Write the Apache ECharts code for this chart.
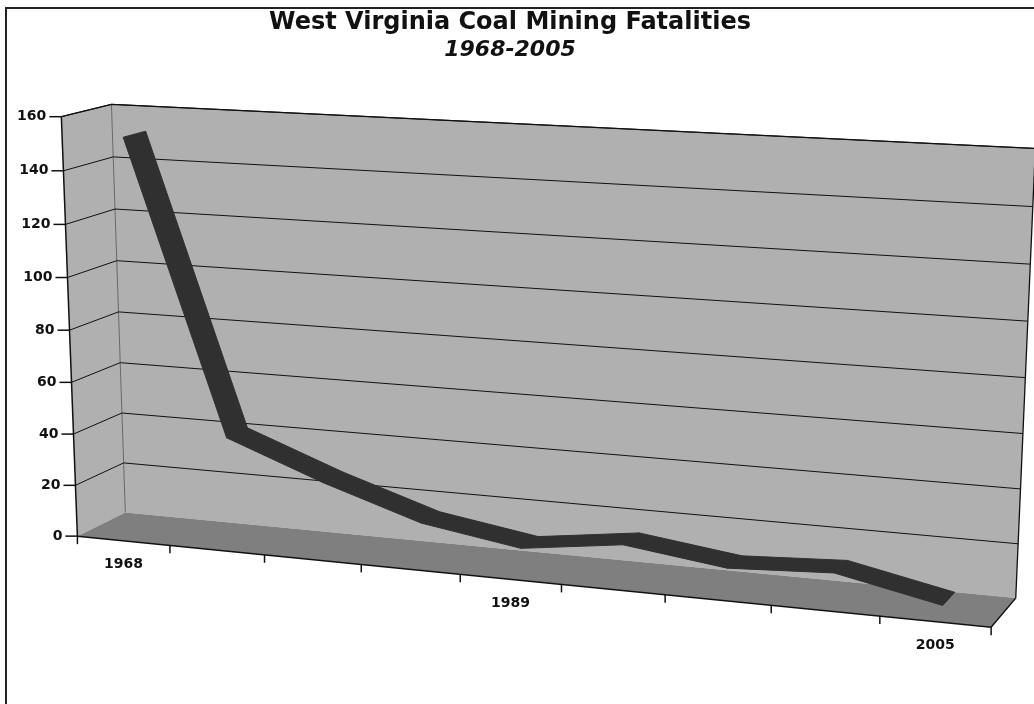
<!DOCTYPE html>
<html>
<head>
<meta charset="utf-8">
<title>West Virginia Coal Mining Fatalities</title>
<script src="https://cdn.jsdelivr.net/npm/echarts@6.0.0/dist/echarts.min.js"></script>
<style>
  html, body { margin: 0; padding: 0; background: #fff; }
  #chart { width: 1034px; height: 704px; }
</style>
</head>
<body>
<div id="chart"></div>
<script>
// values (only three years are labelled)
var years = ['1968', '', '', '', '1989', '', '', '', '2005'];
var fatalities = [152, 41, 27, 15, 9, 14, 9, 11, 3];
var yTicks = [0, 20, 40, 60, 80, 100, 120, 140, 160];

var WALL = '#b0b0b0', FLOOR = '#7f7f7f', RIBBON = '#303030', INK = '#111111';
var FONT = '"DejaVu Sans", Verdana, sans-serif';
var W1 = 0.27, W2 = 0.73;   // depth of the ribbon inside the box

// box corners seen in the picture: [u, v, w, x, y]
// u runs along the years, v = value / max, w = depth (0 front, 1 back)
var anchors = [
  [0, 1, 0, 63, 117], [0, .875, 0, 63, 170], [0, .75, 0, 65, 224], [0, .625, 0, 68, 277],
  [0, .5, 0, 70, 329], [0, .375, 0, 72, 383], [0, .25, 0, 73, 433], [0, .125, 0, 75, 485], [0, 0, 0, 77, 536],
  [0, 1, 1, 110, 104], [0, .875, 1, 112, 157], [0, .75, 1, 115, 209], [0, .625, 1, 117, 262],
  [0, .5, 1, 119, 312], [0, .375, 1, 121, 363], [0, .25, 1, 122, 413], [0, .125, 1, 124, 463], [0, 0, 1, 125, 513],
  [1, 1, 1, 1034, 149], [1, .875, 1, 1033, 207], [1, .75, 1, 1031, 265], [1, .625, 1, 1028, 321],
  [1, .5, 1, 1026, 378], [1, .375, 1, 1024, 433], [1, .25, 1, 1021, 488], [1, .125, 1, 1018, 542], [1, 0, 1, 1015, 597],
  [1 / 9, 0, 0, 171, 545], [4 / 9, 0, 0, 459, 576], [5 / 9, 0, 0, 562, 585], [6 / 9, 0, 0, 665, 595],
  [7 / 9, 0, 0, 770, 606], [8 / 9, 0, 0, 879, 617], [1, 0, 0, 992, 627]
];

// least squares fit of a perspective camera to the anchors
function fitCamera(pts) {
  var rows = [], rhs = [];
  pts.forEach(function (p) {
    var u = p[0], v = p[1], w = p[2];
    var x = (p[3] - 520) / 500, y = (p[4] - 350) / 500;
    rows.push([u, v, w, 1, 0, 0, 0, 0, -x * u, -x * v, -x * w]); rhs.push(x);
    rows.push([0, 0, 0, 0, u, v, w, 1, -y * u, -y * v, -y * w]); rhs.push(y);
  });
  var n = 11, M = [], r = [], i, j, k;
  for (i = 0; i < n; i++) {
    M[i] = [];
    for (j = 0; j < n; j++) {
      var s = 0;
      for (k = 0; k < rows.length; k++) s += rows[k][i] * rows[k][j];
      M[i][j] = s;
    }
    var t = 0;
    for (k = 0; k < rows.length; k++) t += rows[k][i] * rhs[k];
    r[i] = t;
  }
  for (i = 0; i < n; i++) {
    var piv = i;
    for (j = i + 1; j < n; j++) if (Math.abs(M[j][i]) > Math.abs(M[piv][i])) piv = j;
    var tmp = M[i]; M[i] = M[piv]; M[piv] = tmp;
    tmp = r[i]; r[i] = r[piv]; r[piv] = tmp;
    for (j = i + 1; j < n; j++) {
      var f = M[j][i] / M[i][i];
      for (k = i; k < n; k++) M[j][k] -= f * M[i][k];
      r[j] -= f * r[i];
    }
  }
  var p = [];
  for (i = n - 1; i >= 0; i--) {
    var s2 = r[i];
    for (j = i + 1; j < n; j++) s2 -= M[i][j] * p[j];
    p[i] = s2 / M[i][i];
  }
  return p;
}
var cam = fitCamera(anchors);

function proj(u, v, w) {
  var d = cam[8] * u + cam[9] * v + cam[10] * w + 1;
  return [(cam[0] * u + cam[1] * v + cam[2] * w + cam[3]) / d * 500 + 520,
          (cam[4] * u + cam[5] * v + cam[6] * w + cam[7]) / d * 500 + 350];
}

// pixel in the flat (hidden) grid -> [u, v]
function toUV(cs, pt) {
  return [(pt[0] - cs.x) / cs.width, (cs.y + cs.height - pt[1]) / cs.height];
}

function renderWalls(params, api) {
  var P = proj;
  return {
    type: 'group',
    children: [
      { type: 'polygon', shape: { points: [P(0, 0, 0), P(0, 1, 0), P(0, 1, 1), P(0, 0, 1)] }, style: { fill: WALL } },
      { type: 'polygon', shape: { points: [P(0, 0, 1), P(0, 1, 1), P(1, 1, 1), P(1, 0, 1)] }, style: { fill: WALL } },
      { type: 'polyline', shape: { points: [P(0, 0, 1), P(0, 1, 1)] }, style: { stroke: '#666', lineWidth: 1, fill: null } },
      { type: 'polyline', shape: { points: [P(0, 1, 0), P(0, 1, 1), P(1, 1, 1), P(1, 0, 1)] }, style: { stroke: INK, lineWidth: 1.3, fill: null } },
      { type: 'polyline', shape: { points: [P(0, 0, 0), P(0, 1, 0)] }, style: { stroke: INK, lineWidth: 1.5, fill: null } }
    ]
  };
}

function renderGridLine(params, api) {
  var cs = params.coordSys;
  var t = api.value(1);
  var v = toUV(cs, api.coord([0, t]))[1];
  var f = proj(0, v, 0);
  var kids = [
    { type: 'line', shape: { x1: f[0] - 12, y1: f[1], x2: f[0], y2: f[1] }, style: { stroke: INK, lineWidth: 1.5 } },
    { type: 'text', x: f[0] - 15, y: f[1], style: { text: String(t), font: 'bold 14px ' + FONT, fill: INK, align: 'right', verticalAlign: 'middle' } }
  ];
  if (t > 0) {
    kids.unshift({ type: 'polyline', shape: { points: [f, proj(0, v, 1), proj(1, v, 1)] }, style: { stroke: INK, lineWidth: 1, fill: null } });
  }
  return { type: 'group', children: kids };
}

function renderFloor(params, api) {
  var P = proj;
  return {
    type: 'group',
    children: [
      { type: 'polygon', shape: { points: [P(0, 0, 0), P(1, 0, 0), P(1, 0, 1), P(0, 0, 1)] }, style: { fill: FLOOR } },
      { type: 'polyline', shape: { points: [P(0, 0, 0), P(1, 0, 0), P(1, 0, 1)] }, style: { stroke: INK, lineWidth: 1.5, fill: null } }
    ]
  };
}

function renderCategory(params, api) {
  var cs = params.coordSys;
  var i = api.value(0);
  var n = years.length;
  var kids = [];
  var a = proj(i / n, 0, 0);
  kids.push({ type: 'line', shape: { x1: a[0], y1: a[1], x2: a[0], y2: a[1] + 8 }, style: { stroke: INK, lineWidth: 1.5 } });
  if (i === n - 1) {
    var b = proj(1, 0, 0);
    kids.push({ type: 'line', shape: { x1: b[0], y1: b[1], x2: b[0], y2: b[1] + 8 }, style: { stroke: INK, lineWidth: 1.5 } });
  }
  if (years[i]) {
    var c = proj(toUV(cs, api.coord([i, 0]))[0], 0, 0);
    kids.push({ type: 'text', x: c[0], y: c[1] + 24, style: { text: years[i], font: 'bold 14px ' + FONT, fill: INK, align: 'center', verticalAlign: 'middle' } });
  }
  return { type: 'group', children: kids };
}

function renderRibbon(params, api) {
  var cs = params.coordSys;
  var i = api.value(0);
  var a = toUV(cs, api.coord([i, api.value(1)]));
  var b = toUV(cs, api.coord([i + 1, api.value(2)]));
  var pts = [proj(a[0], a[1], W1), proj(b[0], b[1], W1), proj(b[0], b[1], W2), proj(a[0], a[1], W2)];
  return { type: 'polygon', shape: { points: pts }, style: { fill: RIBBON, stroke: RIBBON, lineWidth: 1 } };
}

var segments = fatalities.slice(1).map(function (v, i) { return [i, fatalities[i], v]; });
var gridData = yTicks.map(function (t) { return [0, t]; });
var catData = years.map(function (y, i) { return [i, 0]; });

var chart = echarts.init(document.getElementById('chart'));
chart.setOption({
  animation: false,
  title: [
    { text: 'West Virginia Coal Mining Fatalities', left: 505, top: 6, textAlign: 'center',
      textStyle: { fontFamily: FONT, fontSize: 24, fontWeight: 'bold', color: INK } },
    { text: '1968-2005', left: 505, top: 34, textAlign: 'center',
      textStyle: { fontFamily: FONT, fontSize: 22, fontWeight: 'bold', fontStyle: 'italic', color: INK } }
  ],
  graphic: [
    { type: 'polyline', shape: { points: [[6, 704], [6, 8], [1034, 8]] }, style: { stroke: '#222', lineWidth: 2, fill: null } }
  ],
  grid: { left: 0, top: 0, width: 900, height: 400, show: false },
  xAxis: { type: 'category', data: years, show: false },
  yAxis: { type: 'value', min: 0, max: 160, interval: 20, show: false },
  series: [
    { type: 'custom', name: 'walls', renderItem: renderWalls, data: [[0, 0]], clip: false, z: 1, silent: true },
    { type: 'custom', name: 'gridlines', renderItem: renderGridLine, data: gridData, clip: false, z: 2, silent: true },
    { type: 'custom', name: 'floor', renderItem: renderFloor, data: [[0, 0]], clip: false, z: 3, silent: true },
    { type: 'custom', name: 'years', renderItem: renderCategory, data: catData, clip: false, z: 3, silent: true },
    { type: 'custom', name: 'Fatalities', renderItem: renderRibbon, data: segments, clip: false, z: 4,
      encode: { x: 0, y: 1 } }
  ]
});
</script>
</body>
</html>
